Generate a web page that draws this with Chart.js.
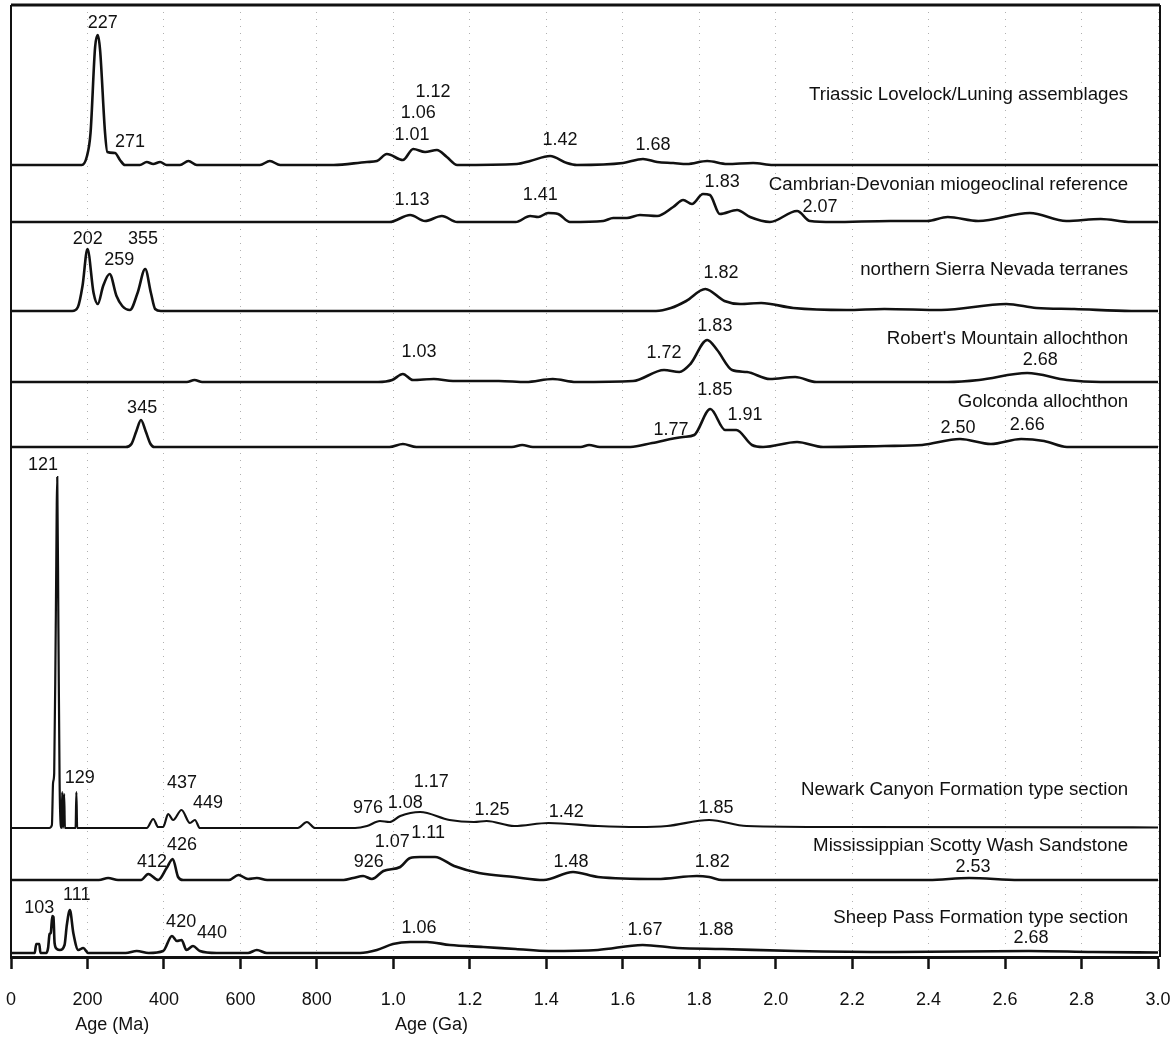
<!DOCTYPE html>
<html>
<head>
<meta charset="utf-8">
<script src="https://cdn.jsdelivr.net/npm/chart.js@4"></script>
<style>
  body { margin: 0; background: #fff; }
  #wrap { width: 1176px; height: 1041px; }
</style>
</head>
<body>
<div id="wrap"><canvas id="myChart"></canvas></div>
<script>
(() => {
  "use strict";

  // Sample names (top to bottom) and the height of each baseline above the age axis
  const seriesNames = [
    "Triassic Lovelock/Luning assemblages",
    "Cambrian-Devonian miogeoclinal reference",
    "northern Sierra Nevada terranes",
    "Robert's Mountain allochthon",
    "Golconda allochthon",
    "Newark Canyon Formation type section",
    "Mississippian Scotty Wash Sandstone",
    "Sheep Pass Formation type section"
  ];
  const baselines = [792, 735, 646, 575, 510, 129, 77, 4];
  const titleHeights = [862, 772, 687, 618, 555, 167, 111, 39];

  // Probability curves: ages (Ma) and relative height
  const triassicAge = [0, 185, 198, 208, 220, 227, 233, 246, 252, 272, 285, 298, 337, 355, 372, 390, 407, 442, 464, 486, 651, 677, 704, 844, 931, 957, 983, 1025, 1052, 1083, 1114, 1140, 1167, 1323, 1358, 1410, 1454, 1480, 1601, 1653, 1690, 1732, 1768, 1821, 1873, 1941, 1993, 3000];
  const triassicH = [0, 0, 8, 32, 118, 130, 115, 32, 13, 12, 5, 0, 0, 3, 1, 3, 0, 0, 4, 0, 0, 4, 0, 0, 3, 4, 11, 5, 16, 13, 15, 8, 0, 1, 4, 9, 2, 0, 2, 6, 3, 2, 1, 4, 1, 2, 0, 0];

  const cambrianAge = [0, 990, 1044, 1083, 1127, 1167, 1320, 1358, 1379, 1405, 1431, 1462, 1549, 1575, 1611, 1645, 1690, 1732, 1758, 1781, 1810, 1828, 1854, 1899, 1933, 1985, 2056, 2090, 2150, 2300, 2396, 2450, 2530, 2665, 2760, 2850, 2930, 3000];
  const cambrianH = [0, 0, 7, 1, 6, 0, 0, 6, 5, 9, 8, 0, 1, 4, 4, 7, 6, 15, 22, 18, 28, 27, 8, 12, 5, 0, 11, 1, 0, 1, 1, 5, 1, 9, 1, 3, 0, 0];

  const sierraAge = [0, 160, 175, 187, 200, 216, 227, 241, 258, 276, 291, 311, 331, 351, 366, 377, 392, 1650, 1687, 1726, 1766, 1816, 1866, 1907, 1962, 2046, 2185, 2284, 2433, 2603, 2682, 2781, 2930, 3000];
  const sierraH = [0, 0, 4, 25, 62, 18, 7, 25, 37, 15, 5, 1, 18, 42, 18, 2, 0, 0, 0, 3, 10, 22, 10, 7, 8, 3, 1, 2, 1, 7, 3, 2, 0, 0];

  const robertsAge = [0, 460, 480, 500, 960, 997, 1025, 1051, 1106, 1156, 1276, 1347, 1417, 1478, 1627, 1708, 1748, 1777, 1821, 1847, 1886, 1925, 1985, 2051, 2106, 2450, 2532, 2658, 2762, 2850, 3000];
  const robertsH = [0, 0, 2, 0, 0, 2, 8, 2, 3, 1, 1, 0, 3, 0, 1, 12, 10, 18, 42, 32, 12, 10, 3, 5, 0, 0, 2, 9, 2, 0, 0];

  const golcondaAge = [0, 300, 315, 328, 340, 352, 365, 375, 990, 1025, 1060, 1310, 1337, 1365, 1490, 1512, 1540, 1620, 1677, 1758, 1787, 1829, 1868, 1897, 1938, 1967, 2056, 2124, 2284, 2383, 2482, 2563, 2642, 2702, 2762, 3000];
  const golcondaH = [0, 0, 3, 16, 27, 16, 3, 0, 0, 3, 0, 0, 2, 0, 0, 2, 0, 0, 4, 10, 12, 38, 17, 17, 2, 0, 5, 0, 1, 2, 8, 3, 8, 6, 0, 0];

  const newarkAge = [0, 100, 107, 110, 113, 117, 121, 124, 127, 130, 132, 134, 136, 139, 141, 169, 171, 173, 355, 372, 385, 398, 411, 424, 446, 468, 481, 494, 750, 774, 795, 900, 931, 965, 990, 1018, 1070, 1147, 1211, 1244, 1316, 1406, 1535, 1640, 1716, 1826, 1924, 2184, 3000];
  const newarkH = [0, 0, 3, 45, 55, 200, 351, 200, 50, 3, 0, 36, 0, 34, 0, 0, 36, 0, 0, 9, 1, 1, 14, 8, 18, 5, 8, 0, 0, 6, 0, 0, 2, 7, 6, 12, 16, 8, 6, 7, 2, 5, 2, 1, 2, 8, 2, 1, 0.5];

  const scottyAge = [0, 230, 254, 280, 340, 359, 385, 407, 423, 437, 450, 570, 595, 620, 643, 670, 870, 895, 921, 944, 974, 1018, 1044, 1070, 1109, 1159, 1224, 1316, 1393, 1470, 1535, 1690, 1794, 1826, 1860, 2400, 2506, 2637, 3000];
  const scottyH = [0, 0, 2, 0, 0, 6, 0, 12, 21, 3, 0, 0, 5, 1, 2, 0, 0, 2, 4, 1, 9, 13, 22, 23, 23, 14, 7, 3, 0, 8, 3, 1, 4, 3, 0, 0, 2, 0, 0];

  const sheepAge = [0, 62, 66, 74, 77, 92, 97, 101, 104, 108, 111, 114, 120, 128, 140, 146, 154, 163, 176, 189, 202, 300, 329, 360, 398, 421, 434, 446, 459, 476, 494, 538, 620, 643, 669, 913, 957, 999, 1044, 1088, 1148, 1235, 1320, 1406, 1535, 1652, 1743, 1860, 2053, 2312, 2662, 2830, 3000];
  const sheepH = [0, 0, 9, 9, 0, 0, 5, 19, 20, 37, 36, 10, 4, 3, 8, 28, 43, 20, 3, 5, 0, 0, 2, 0, 2, 17, 12, 13, 3, 7, 2, 0, 0, 3, 0, 0, 3, 9, 11, 11, 8, 6, 4, 2, 3, 8, 5, 4, 2, 1, 2, 1, 0.5];

  const curveAges = [triassicAge, cambrianAge, sierraAge, robertsAge, golcondaAge, newarkAge, scottyAge, sheepAge];
  const curveHeights = [triassicH, cambrianH, sierraH, robertsH, golcondaH, newarkH, scottyH, sheepH];

  // Peak labels: text, age (Ma), height above axis
  const peakLabels = [
    ["227", 240, 934], ["271", 311, 815], ["1.12", 1104, 865], ["1.06", 1065, 844], ["1.01", 1049, 822],
    ["1.42", 1436, 817], ["1.68", 1679, 812],
    ["1.83", 1860, 775], ["1.13", 1049, 757], ["1.41", 1384, 762], ["2.07", 2116, 750],
    ["202", 201, 718], ["259", 283, 697], ["355", 345, 718], ["1.82", 1857, 684],
    ["1.03", 1067, 605], ["1.72", 1708, 604], ["1.83", 1841, 631], ["2.68", 2692, 597],
    ["345", 343, 549], ["1.77", 1726, 527], ["1.85", 1841, 567], ["1.91", 1920, 542], ["2.50", 2477, 529], ["2.66", 2658, 532],
    ["121", 84, 492], ["129", 180, 179], ["437", 447, 174], ["449", 515, 154], ["976", 934, 149],
    ["1.08", 1031, 154], ["1.17", 1099, 175], ["1.25", 1258, 147], ["1.42", 1452, 145], ["1.85", 1844, 149],
    ["412", 369, 95], ["426", 447, 112], ["926", 936, 95], ["1.07", 997, 115], ["1.11", 1091, 124],
    ["1.48", 1465, 95], ["1.82", 1834, 95], ["2.53", 2516, 90],
    ["103", 74, 49], ["111", 172, 62], ["420", 445, 35], ["440", 526, 24], ["1.06", 1067, 29],
    ["1.67", 1658, 27], ["1.88", 1844, 27], ["2.68", 2668, 19]
  ];

  const titleRightAge = 2922;
  const axisTitles = [["Age (Ma)", 265], ["Age (Ga)", 1100]];

  const FAMILY = "'Liberation Sans', Arial, sans-serif";

  const datasets = curveAges.map((ages, k) => ({
    label: seriesNames[k],
    data: ages.map((a, i) => ({ x: a, y: baselines[k] + curveHeights[k][i] })),
    borderColor: "#111",
    borderWidth: k === 5 ? 2.2 : 2.6,
    pointRadius: 0,
    fill: false,
    cubicInterpolationMode: "monotone"
  }));

  // Text and frame drawn on top, positioned through the chart scales
  const textPlugin = {
    id: "textPlugin",
    afterDraw(chart) {
      const { ctx, chartArea: area } = chart;
      const xs = chart.scales.x;
      const ys = chart.scales.y;
      ctx.save();
      ctx.fillStyle = "#111";
      ctx.font = "18px " + FAMILY;
      ctx.textAlign = "center";
      ctx.textBaseline = "middle";
      peakLabels.forEach(([t, a, h]) => {
        ctx.fillText(t, xs.getPixelForValue(a), ys.getPixelForValue(h));
      });
      ctx.font = "18.7px " + FAMILY;
      ctx.textAlign = "right";
      seriesNames.forEach((name, k) => {
        ctx.fillText(name, xs.getPixelForValue(titleRightAge), ys.getPixelForValue(titleHeights[k]));
      });
      ctx.font = "18px " + FAMILY;
      ctx.textAlign = "center";
      axisTitles.forEach(([t, a]) => {
        ctx.fillText(t, xs.getPixelForValue(a), area.bottom + 68);
      });
      // frame
      ctx.strokeStyle = "#111";
      ctx.lineWidth = 3;
      ctx.beginPath();
      ctx.moveTo(area.left, area.top);
      ctx.lineTo(area.right + 2, area.top);
      ctx.stroke();
      ctx.lineWidth = 2;
      ctx.beginPath();
      ctx.moveTo(area.left, area.top);
      ctx.lineTo(area.left, area.bottom);
      ctx.moveTo(area.right + 2, area.top);
      ctx.lineTo(area.right + 2, area.bottom);
      ctx.stroke();
      ctx.restore();
    }
  };

  const ctx = document.getElementById("myChart");
  new Chart(ctx, {
    type: "line",
    data: { datasets },
    options: {
      responsive: true,
      maintainAspectRatio: false,
      animation: false,
      layout: { padding: { left: 11, right: 18, top: 5, bottom: 34 } },
      plugins: {
        legend: { display: false },
        tooltip: { enabled: false }
      },
      scales: {
        x: {
          type: "linear",
          min: 0,
          max: 3000,
          afterFit: (scale) => {
            scale.height = 50;
            scale.paddingLeft = 0;
            scale.paddingRight = 0;
          },
          ticks: {
            stepSize: 200,
            autoSkip: false,
            maxRotation: 0,
            padding: 20,
            color: "#111",
            font: { family: FAMILY, size: 18 },
            callback: (v) => (v < 1000 ? String(v) : (v / 1000).toFixed(1))
          },
          grid: {
            color: "#b0b0b0",
            lineWidth: 1,
            tickLength: 12,
            tickWidth: 2.5,
            tickColor: "#111"
          },
          border: { color: "#111", width: 3, dash: [1, 6] }
        },
        y: {
          display: false,
          min: 0,
          max: 952
        }
      }
    },
    plugins: [textPlugin]
  });
})();
</script>
</body>
</html>
